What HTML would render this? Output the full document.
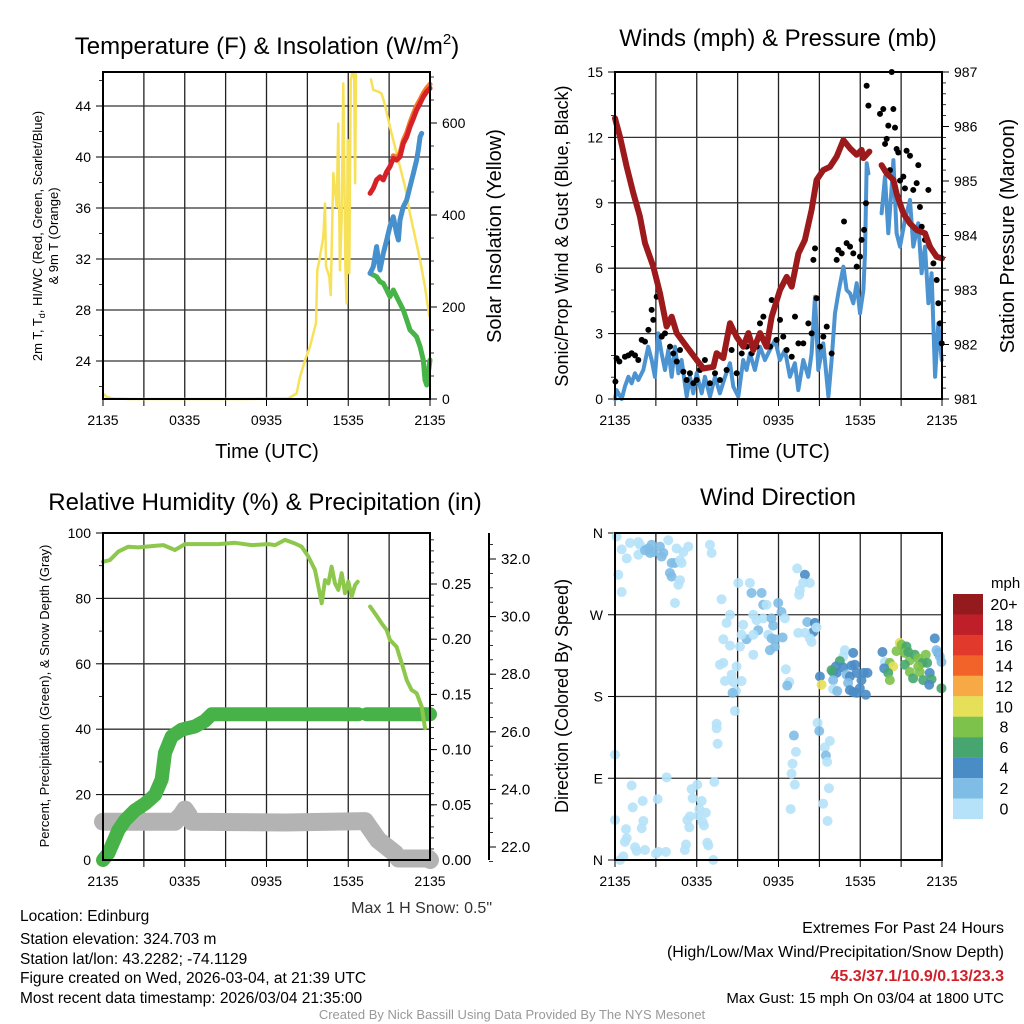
<!DOCTYPE html>
<html><head><meta charset="utf-8">
<style>
html,body{margin:0;padding:0;background:#fff;}
svg{display:block;font-family:"Liberation Sans",Arial,sans-serif;}
</style></head>
<body>
<svg id="fig" width="1024" height="1024" viewBox="0 0 1024 1024" xmlns="http://www.w3.org/2000/svg">
<g id="layer"></g>
<text x="267" y="54" font-size="24" text-anchor="middle">Temperature (F) &amp; Insolation (W/m<tspan font-size="15" dy="-10">2</tspan><tspan dy="10">)</tspan></text>
<text x="778" y="46" font-size="24" text-anchor="middle">Winds (mph) &amp; Pressure (mb)</text>
<text x="265" y="510" font-size="24" text-anchor="middle">Relative Humidity (%) &amp; Precipitation (in)</text>
<text x="778" y="505" font-size="24" text-anchor="middle">Wind Direction</text>
<text x="267" y="458" font-size="20" text-anchor="middle">Time (UTC)</text>
<text x="778" y="458" font-size="20" text-anchor="middle">Time (UTC)</text>
<text font-size="13" text-anchor="middle" transform="translate(42,236) rotate(-90)">2m T, T<tspan font-size="9" dy="3">d</tspan><tspan dy="-3">, HI/WC (Red, Green, Scarlet/Blue)</tspan></text>
<text font-size="13" text-anchor="middle" transform="translate(58,236) rotate(-90)">&amp; 9m T (Orange)</text>
<text font-size="20" text-anchor="middle" transform="translate(501,236) rotate(-90)">Solar Insolation (Yellow)</text>
<text font-size="18" text-anchor="middle" transform="translate(568,236) rotate(-90)">Sonic/Prop Wind &amp; Gust (Blue, Black)</text>
<text font-size="20" text-anchor="middle" transform="translate(1014,236) rotate(-90)">Station Pressure (Maroon)</text>
<text font-size="13" text-anchor="middle" transform="translate(49,696) rotate(-90)">Percent, Precipitation (Green), &amp; Snow Depth (Gray)</text>
<text font-size="18" text-anchor="middle" transform="translate(568,696) rotate(-90)">Direction (Colored By Speed)</text>
<text x="492" y="913" font-size="16" text-anchor="end" fill="#333">Max 1 H Snow: 0.5"</text>
<g font-size="15.5">
<text x="20" y="921">Location: Edinburg</text>
<text x="20" y="944">Station elevation: 324.703 m</text>
<text x="20" y="964">Station lat/lon: 43.2282; -74.1129</text>
<text x="20" y="983">Figure created on Wed, 2026-03-04, at 21:39 UTC</text>
<text x="20" y="1003">Most recent data timestamp: 2026/03/04 21:35:00</text>
</g>
<g font-size="16" text-anchor="end">
<text x="1004" y="933">Extremes For Past 24 Hours</text>
<text x="1004" y="957">(High/Low/Max Wind/Precipitation/Snow Depth)</text>
<text x="1004" y="981" fill="#d0202a" font-weight="bold">45.3/37.1/10.9/0.13/23.3</text>
<text x="1004" y="1003" font-size="15">Max Gust: 15 mph On 03/04 at 1800 UTC</text>
</g>
<text x="512" y="1019" font-size="13" fill="#999" text-anchor="middle">Created By Nick Bassill Using Data Provided By The NYS Mesonet</text>
</svg>
<script>
// ---- Panel 1 data ----
const insolTimes=[0,0.3,0.8,2,6,10,13.6,14.21,14.46,14.83,15.19,15.63,15.73,15.88,16.17,16.29,16.37,16.61,16.71,16.9,17.15,17.27,17.39,17.52,17.64,17.79,17.88,17.96,18.08,18.18,18.33,18.43,18.5,18.57,null,19.65,19.84,20.21,20.45,20.7,21.06,21.43,21.8,22.17,22.53,22.9,23.27,23.63,23.95];
const insolValues=[12,4,1,0,0,0,1,12,48,85,114,165,280,302,353,425,288,266,226,491,418,599,280,396,686,288,208,563,273,693,711,708,469,708,null,697,672,668,664,639,592,548,505,461,403,353,302,244,179];
const tempTimes=[19.6,19.84,20.08,20.33,20.57,20.82,21.06,21.31,21.55,21.8,22.04,22.29,22.53,22.78,23.02,23.27,23.51,23.76,24.0];
const tempValues=[37.15,37.55,38.2,38.45,38.2,38.85,39.24,39.9,39.76,40.02,41.07,41.59,42.38,43.03,43.69,44.21,44.73,45.12,45.39];
const temp9mValues=[null,null,null,null,null,null,null,40.1,39.9,40.3,41.3,41.9,42.7,43.4,44.0,44.5,45.0,45.4,45.7];
const hiwcTimes=[19.6,19.84,20.08,20.21,20.33,20.57,20.82,21.06,21.31,21.55,21.68,21.8,22.04,22.29,22.53,22.78,23.02,23.14,23.27,23.39];
const hiwcValues=[30.88,31.4,32.97,31.92,31.14,32.44,33.49,34.54,35.32,34.01,33.49,35.06,36.1,36.63,37.67,38.72,39.76,40.55,41.59,41.85];
const dewTimes=[19.6,20.08,20.33,20.57,20.82,21.06,21.31,21.55,21.8,22.04,22.29,22.53,22.78,23.02,23.27,23.51,23.63,23.76,24.0];
const dewValues=[30.88,30.61,30.22,30.09,29.57,29.04,29.57,29.04,28.52,28.0,27.22,26.43,26.17,25.9,25.12,24.08,22.51,22.12,24.08];
const tempTicks=[24,28,32,36,40,44];
const insolTicks=[0,200,400,600];
const timeLabels=["2135","0335","0935","1535","2135"];
// ---- Panel 2 data ----
const presTimes=[0,0.37,0.86,1.35,1.83,2.2,2.81,3.3,3.79,4.16,4.53,5.26,5.99,6.48,7.22,7.46,7.95,8.44,8.93,9.42,9.79,10.15,10.64,11.13,11.5,12.11,12.6,12.97,13.46,13.94,14.43,14.8,15.29,15.78,16.27,16.76,17.25,17.74,18.1,18.23,18.67,null,19.57,19.94,20.43,20.67,21.16,21.65,22.14,22.75,23.12,23.61,24];
const presValues=[986.15,985.81,985.26,984.77,984.35,983.86,983.43,982.94,982.33,982.51,982.21,981.96,981.72,981.56,981.59,981.84,981.75,982.39,982.14,981.96,982.21,981.9,982.21,981.96,982.51,983.0,983.24,983.06,983.67,983.92,984.47,985.02,985.2,985.26,985.45,985.75,985.6,985.48,985.57,985.42,985.54,null,985.29,985.14,985.02,984.77,984.41,984.22,984.1,984.04,983.79,983.61,983.58];
const windTimes=[0,0.12,0.49,0.73,0.98,1.22,1.47,1.71,2.08,2.44,2.69,2.93,3.18,3.42,3.67,3.91,4.16,4.4,4.65,4.89,5.26,5.5,5.75,5.99,6.36,6.6,6.97,7.34,7.7,8.07,8.44,8.68,9.05,9.41,9.66,9.9,10.27,10.64,11.0,11.37,11.74,12.1,12.47,12.84,13.2,13.45,13.82,14.19,14.43,14.68,14.92,15.29,15.66,15.9,16.15,16.39,16.76,17.0,17.25,17.49,17.74,17.98,18.23,18.35,18.47,18.6,null,19.57,19.82,20.06,20.31,20.43,20.67,20.92,21.28,21.65,21.89,22.26,22.5,22.75,23.0,23.24,23.49,23.73,23.98];
const windValues=[0,0.41,0,0.57,1.02,0.72,1.18,0.87,1.33,2.4,1.79,1.02,3.01,2.09,1.33,2.25,1.02,2.4,1.18,1.79,0.11,1.02,0.26,1.18,0.26,1.02,0.11,1.02,0.26,1.02,1.64,0.57,0.11,1.79,1.33,2.09,1.33,2.4,1.79,2.25,2.71,1.79,2.25,1.02,1.64,0.41,1.79,1.02,2.09,4.69,1.33,2.55,0.11,1.79,3.93,4.85,6.07,5.0,4.85,4.39,5.31,3.93,5.0,6.68,10.81,10.35,null,8.52,10.2,7.6,9.74,10.96,7.6,6.99,8.21,9.13,6.99,8.06,5.77,6.99,4.39,5.77,1.02,3.47,1.79];
const gustTimes=[0.03,0.12,0.32,0.73,0.98,1.22,1.47,1.71,1.96,2.2,2.45,2.69,2.81,3.06,3.43,3.67,4.04,4.28,4.53,4.77,5.02,5.26,5.5,5.75,5.99,6.24,6.6,6.97,7.34,7.7,8.19,8.56,8.93,9.3,9.66,10.03,10.4,10.64,10.89,11.38,11.5,11.86,12.11,12.35,12.6,12.97,13.21,13.46,13.82,14.19,14.43,14.56,14.68,14.8,15.05,15.29,15.54,15.9,16.27,16.39,16.64,16.81,17.0,17.25,17.49,17.74,17.98,18.1,18.28,18.42,18.47,18.6,19.45,19.69,19.82,19.94,20.06,20.18,20.31,20.43,20.55,20.67,20.79,20.92,21.16,21.28,21.4,21.65,21.89,22.14,22.26,22.38,22.51,22.75,23.0,23.12,23.37,23.61,23.73,23.85,23.98];
const gustValues=[0.8,1.87,1.72,1.94,2.0,2.1,2.0,1.79,2.71,2.63,3.17,4.09,3.63,4.69,2.86,3.01,2.4,2.09,1.72,2.25,1.25,0.87,1.18,0.72,0.87,1.33,1.79,0.72,1.18,0.87,1.33,2.25,1.18,2.09,2.4,2.09,2.4,3.47,3.78,2.4,4.54,2.71,3.63,2.86,2.25,1.94,3.78,2.55,2.55,3.47,3.01,6.38,6.91,4.62,2.4,2.86,3.32,2.09,6.38,6.84,6.68,8.14,7.15,6.99,6.68,6.07,6.53,7.3,7.76,8.98,14.37,13.46,13.08,13.3,11.7,11.93,12.54,10.5,15.0,13.3,12.45,11.47,11.31,10.02,10.2,9.66,11.39,11.16,9.59,9.9,10.73,8.81,7.9,7.3,9.59,6.99,6.22,5.46,4.39,3.47,2.55];
const windTicks=[0,3,6,9,12,15];
const presTicks=[981,982,983,984,985,986,987];
// ---- Panel 3 data ----
const rhTimes=[0,0.51,1.13,1.86,2.59,3.57,4.43,5.28,6.02,7.24,8.47,9.69,10.91,12.14,12.63,13.36,14.09,14.58,15.07,15.56,15.81,16.05,16.29,16.54,16.78,17.03,17.27,17.52,17.76,18.0,18.25,18.5,18.69,null,19.6,19.96,20.45,20.82,21.06,21.55,21.92,22.29,22.65,23.02,23.39,23.63];
const rhValues=[91.2,91.7,94.3,95.8,95.6,96.0,96.3,94.8,96.6,96.6,96.6,97.0,96.3,96.6,96.3,97.9,96.8,95.8,92.8,88.7,83.6,78.5,85.6,84.6,89.7,84.6,82.6,87.7,81.6,85.1,80.6,84.1,85.1,null,77.5,75.4,72.4,70.3,67.3,65.2,60.2,55.0,52.0,51.0,46.9,40.3];
const precipTimes=[0,0.39,1.13,1.62,2.35,3.08,3.82,4.31,4.55,5.04,5.77,6.75,7.48,7.97,12,18.74,null,19.35,24];
const precipValues=[0,0.006,0.027,0.036,0.045,0.051,0.059,0.073,0.097,0.112,0.118,0.121,0.126,0.132,0.132,0.132,null,0.132,0.132];
const snowTimes=[0,5.28,5.75,6.02,6.3,6.51,13.36,19.23,20.2,21.43,21.68,23.88,24];
const snowValues=[22.88,22.88,23.1,23.3,23.1,22.88,22.85,22.9,22.24,21.78,21.6,21.6,21.55];
const rhTicks=[0,20,40,60,80,100];
const precipTicks=[0,0.05,0.10,0.15,0.20,0.25];
const precipTickLabels=["0.00","0.05","0.10","0.15","0.20","0.25"];
const snowTicks=[22,24,26,28,30,32];
const snowTickLabels=["22.0","24.0","26.0","28.0","30.0","32.0"];
// ---- Panel 4 data ----
const dirTimes=[0.12,0.49,0.86,1.10,1.71,1.83,1.71,2.20,2.44,2.57,2.69,2.81,3.30,3.42,3.55,3.91,4.16,4.40,4.03,4.16,4.52,4.77,4.89,5.01,5.38,4.77,4.65,4.40,0.24,0.49,6.97,7.09,9.05,9.90,10.02,10.76,10.88,11.12,11.98,12.22,12.47,7.82,8.44,8.19,9.41,10.15,10.39,10.51,10.88,11.49,11.61,11.25,11.49,11.74,12.30,11.74,11.37,9.66,9.29,10.15,9.17,8.44,7.95,10.15,7.70,7.95,8.92,8.56,9.29,8.68,8.07,8.88,8.63,8.80,7.46,7.46,7.53,13.37,13.94,13.81,14.30,13.57,13.52,14.11,14.67,14.55,13.45,13.94,14.30,14.43,14.79,12.54,12.79,12.64,14.87,14.99,13.13,13.28,13.03,12.96,13.20,15.77,15.40,15.48,15.57,15.70,15.28,15.60,12.89,0,3.79,1.22,1.30,2.03,3.13,5.62,6.04,5.70,6.36,6.19,6.67,6.11,5.50,5.31,5.45,6.43,6.53,2.08,1.96,0.81,0.86,0.73,1.47,1.59,2.20,3.01,3.18,3.74,5.21,5.13,6.77,6.85,7.21,0.61,0.37,0,7.29,16.87,16.75,17.48,16.50,16.75,17.36,17.60,16.01,16.26,16.99,17.24,17.73,18.26,18.53,15.04,15.16,16.01,16.01,16.31,17.11,17.24,17.48,17.73,17.97,18.09,18.41,16.21,15.89,19.63,19.80,20.17,20.42,20.66,20.90,21.03,21.39,21.27,21.64,21.52,22.00,22.25,22.57,22.81,22.91,19.76,20.05,20.17,21.27,21.64,21.88,22.25,22.37,22.62,23.10,23.23,23.06,23.96,23.47,23.72,23.84,23.96,23.59];
const dirDegrees=[356,342,332,349,350,347,336,341,343,338,347,339,345,334,338,352,327,327,316,312,343,330,327,339,345,308,303,283,314,295,347,338,305,305,294,294,281,281,283,273,266,287,270,261,259,270,264,253,266,266,258,248,244,243,245,235,231,243,248,248,235,236,243,226,215,217,213,204,197,196,197,186,184,164,150,145,128,321,314,305,305,297,292,262,261,251,250,250,244,240,256,210,196,192,151,142,137,119,106,95,83,131,124,115,108,79,62,43,56,116,91,82,58,65,67,78,83,68,65,56,52,49,48,44,36,42,38,43,35,34,24,20,14,10,11,7,9,9,17,11,19,16,0,4,0,44,86,231,224,228,219,212,214,215,207,206,204,202,206,206,206,202,193,198,188,186,195,187,185,184,189,198,182,213,209,229,218,217,213,230,239,237,235,228,220,229,226,222,217,226,217,211,206,198,215,207,200,213,207,198,206,199,193,189,244,228,224,218,231];
const dirSpeeds=[1,1,1,1,1,1,1,3,3,3,3,3,3,3,3,1,3,3,3,3,1,1,1,1,1,1,1,1,1,1,1,1,1,1,3,3,3,1,3,3,1,1,1,1,1,1,1,3,1,3,3,1,3,3,3,3,3,3,1,1,1,1,1,1,1,1,1,1,1,1,1,1,3,1,1,1,1,1,5,1,1,1,1,3,5,5,1,1,1,1,1,1,1,3,1,3,3,1,1,1,1,1,1,3,1,1,1,1,1,1,1,1,1,1,1,1,1,1,1,1,1,1,1,1,1,1,1,1,1,1,1,1,1,1,1,1,1,1,1,1,1,1,1,1,1,1,1,1,1,5,7,5,5,5,5,5,3,5,5,5,5,5,11,3,1,3,3,5,5,5,5,5,5,5,7,5,1,9,11,9,11,9,7,9,9,7,7,9,7,9,7,5,7,9,7,9,7,9,9,7,5,7,5,7,5,5,3,3,3,5,3];
const speedBinLabels=["0","2","4","6","8","10","12","14","16","18","20+"];
const speedBinColors=["#b5e2f8","#7fbde6","#4a8cc6","#47a66f","#7cc24b","#e5e058","#f7a945","#f26329","#e13a2c","#bf1f29","#941a1e"];

const NS="http://www.w3.org/2000/svg";
const layer=document.getElementById('layer');
function el(tag,attrs,parent){const e=document.createElementNS(NS,tag);for(const k in attrs)e.setAttribute(k,attrs[k]);(parent||layer).appendChild(e);return e;}
function lin(d0,d1,r0,r1){return v=>r0+(v-d0)*(r1-r0)/(d1-d0);}
function pathD(ts,vs,xf,yf){let d="",pen=false;for(let i=0;i<ts.length;i++){if(ts[i]===null||vs[i]===null){pen=false;continue;}d+=(pen?"L":"M")+xf(ts[i]).toFixed(1)+","+yf(vs[i]).toFixed(1);pen=true;}return d;}

function frame(name,x0,x1,y0,y1,hGrid,tf){
  const g=el('g',{});
  
  
  for(let h=3;h<24;h+=3){const x=tf(h);el('line',{x1:x,x2:x,y1:y0,y2:y1,stroke:'#222','stroke-width':1.3},g);}
  hGrid.forEach(y=>el('line',{x1:x0,x2:x1,y1:y,y2:y,stroke:'#333','stroke-width':1.3},g));
  for(let h=0;h<=24;h+=3){const x=tf(h);el('line',{x1:x,x2:x,y1:y1,y2:y1+7,stroke:'#000','stroke-width':1},g);}
  timeLabels.forEach((l,i)=>{const t=el('text',{x:tf(i*6),y:y1+26,'font-size':14,'text-anchor':'middle'},g);t.textContent=l;
    
    });
  return g;
}
function border(x0,x1,y0,y1){el('rect',{x:x0,y:y0,width:x1-x0,height:y1-y0,fill:'none',stroke:'#000','stroke-width':2});}
function yTicks(ticks,labels,yf,x,side,minor,g,fs){
  ticks.forEach((v,i)=>{const y=yf(v);el('line',{x1:x,x2:x+(side<0?-7:7),y1:y,y2:y,stroke:'#000','stroke-width':1},g);
    const t=el('text',{x:x+(side<0?-12:12),y:y+5,'font-size':fs||14,'text-anchor':side<0?'end':'start'},g);t.textContent=labels?labels[i]:v;
    
    });
  minor.forEach(v=>{const y=yf(v);el('line',{x1:x,x2:x+(side<0?-4:4),y1:y,y2:y,stroke:'#000','stroke-width':0.8},g);});
}
function range(a,b,s){const r=[];for(let v=a;v<=b+1e-9;v+=s)r.push(+v.toFixed(4));return r;}

// ===== Panel 1 =====
{
const X=lin(0,24,103,430), T=lin(24,44,361,106), S=lin(0,600,399,123);
const g=frame('temp-panel',103,430,72,399,tempTicks.map(T),X);
yTicks(tempTicks,null,T,103,-1,range(22,46,2),g);
yTicks(insolTicks,null,S,430,1,range(50,700,50),g);
const ins=el('path',{d:pathD(insolTimes,insolValues,X,S),fill:'none',stroke:'#f7e158','stroke-width':2.5,'stroke-linejoin':'round'});


const o=el('path',{d:pathD(tempTimes,temp9mValues,X,T),fill:'none',stroke:'#f47a2a','stroke-width':5,'stroke-linecap':'round','stroke-linejoin':'round'});


const r=el('path',{d:pathD(tempTimes,tempValues,X,T),fill:'none',stroke:'#d62127','stroke-width':5,'stroke-linecap':'round','stroke-linejoin':'round'});


const gr=el('path',{d:pathD(dewTimes,dewValues,X,T),fill:'none',stroke:'#46b446','stroke-width':5,'stroke-linecap':'round','stroke-linejoin':'round'});


const b=el('path',{d:pathD(hiwcTimes,hiwcValues,X,T),fill:'none',stroke:'#4690cd','stroke-width':5,'stroke-linecap':'round','stroke-linejoin':'round'});


border(103,430,72,399);
}
// ===== Panel 2 =====
{
const X=lin(0,24,615,942), W=lin(0,15,399,72), P=lin(981,987,399,72);
const g=frame('wind-panel',615,942,72,399,windTicks.map(W),X);
yTicks(windTicks,null,W,615,-1,range(1,15,1),g);
yTicks(presTicks,null,P,942,1,range(981.2,987,0.2),g);
const wl=el('path',{d:pathD(windTimes,windValues,X,W),fill:'none',stroke:'#4b93d1','stroke-width':4,'stroke-linejoin':'round','stroke-linecap':'round'});


gustTimes.forEach((t,i)=>{const c=el('circle',{cx:X(t),cy:W(gustValues[i]),r:3,fill:'#000'});
  
  });
const pl=el('path',{d:pathD(presTimes,presValues,X,P),fill:'none',stroke:'#9c1a1c','stroke-width':6,'stroke-linejoin':'round','stroke-linecap':'round'});


border(615,942,72,399);
}
// ===== Panel 3 =====
{
const X=lin(0,24,103,430), R=lin(0,100,860,533), Pr=lin(0,0.25,860,584), Sn=lin(22,32,847,559);
const g=frame('rh-panel',103,430,533,860,[20,40,60,80].map(R),X);
yTicks(rhTicks,null,R,103,-1,range(10,90,20),g);
yTicks(precipTicks,precipTickLabels,Pr,430,1,range(0.01,0.29,0.01),g,15);
el('line',{x1:489,x2:489,y1:533,y2:860,stroke:'#000','stroke-width':2},g);
yTicks(snowTicks,snowTickLabels,Sn,489,1,range(21.5,32.5,0.5),g,15);
const sl=el('path',{d:pathD(snowTimes,snowValues,X,Sn),fill:'none',stroke:'#b3b3b3','stroke-width':18,'stroke-linejoin':'round','stroke-linecap':'round'});


const pl=el('path',{d:pathD(precipTimes,precipValues,X,Pr),fill:'none',stroke:'#47b247','stroke-width':14,'stroke-linejoin':'round','stroke-linecap':'round'});


const rl=el('path',{d:pathD(rhTimes,rhValues,X,R),fill:'none',stroke:'#8dc84c','stroke-width':4,'stroke-linejoin':'round','stroke-linecap':'round'});


border(103,430,533,860);
}
// ===== Panel 4 =====
{
const X=lin(0,24,615,942), D=lin(0,360,860,533);
const g=frame('dir-panel',615,942,533,860,[90,180,270].map(D),X);
const dirTicks=[0,90,180,270,360], dirLabels=["N","E","S","W","N"];
yTicks(dirTicks,dirLabels,D,615,-1,[],g);
dirTimes.forEach((t,i)=>{const bin=Math.min(10,Math.floor(dirSpeeds[i]/2));
  const c=el('circle',{cx:X(t),cy:D(dirDegrees[i]),r:5,fill:speedBinColors[bin],'fill-opacity':0.9});
  
  });
border(615,942,533,860);
const cb=el('g',{});


const lt=el('text',{x:991,y:588,'font-size':15},cb);lt.textContent='mph';
speedBinLabels.forEach((l,i)=>{const k=10-i;const y=594+i*20.45;
  el('rect',{x:953,y:y,width:30,height:20.6,fill:speedBinColors[k]},cb);
  const t=el('text',{x:1004,y:y+16,'font-size':16,'text-anchor':'middle'},cb);t.textContent=speedBinLabels[k];});
}
</script>
</body></html>
